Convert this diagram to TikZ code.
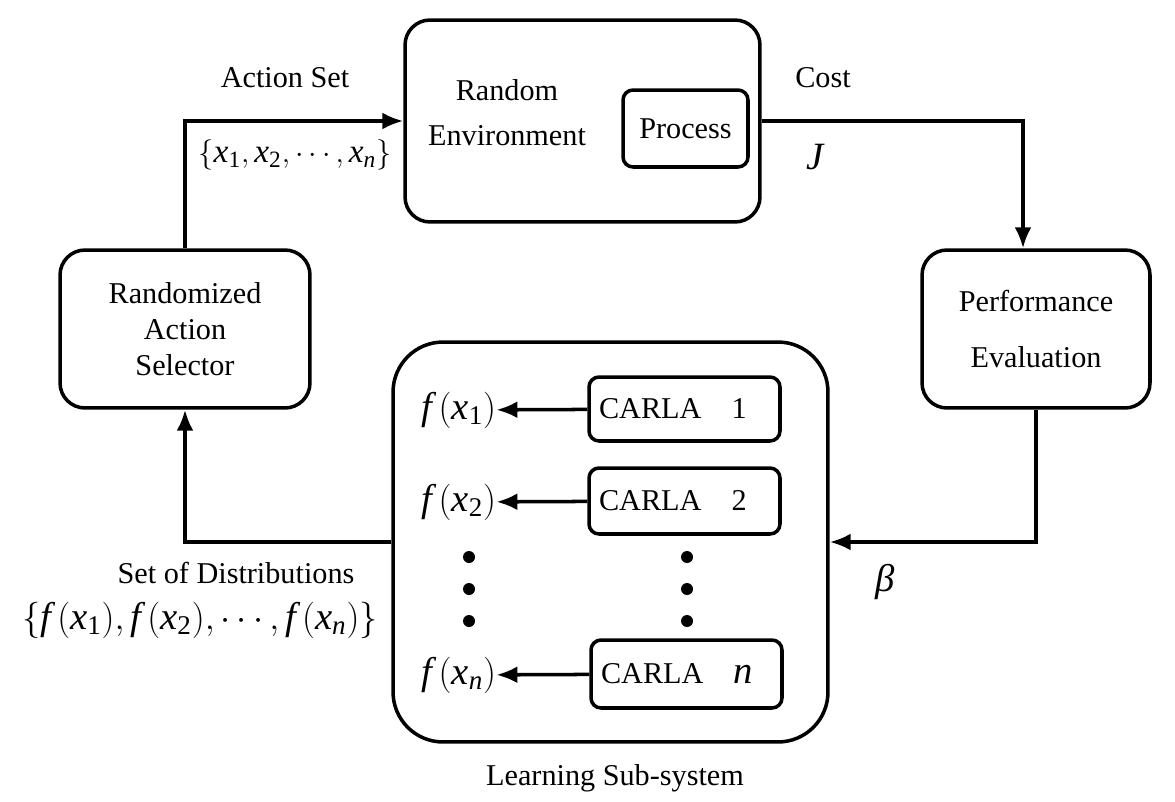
\documentclass[tikz,border=0pt]{standalone}
\usepackage{mathspec}
\setmainfont{Liberation Serif}
\setmathsfont(Digits,Latin)[Uppercase=Italic,Lowercase=Italic]{Liberation Serif}
\usetikzlibrary{arrows.meta}
\tikzset{
	blk/.style={draw, line width=2pt, rounded corners=0.5cm, inner sep=0pt, align=center},
	carla/.style={draw, line width=2pt, rounded corners=0.2cm, text width=3.42cm, inner xsep=0.2cm, inner ysep=0pt, align=left},
	flow/.style={line width=2pt, -{Latex[length=0.42cm,width=0.34cm]}},
	mth/.style={font=\fontsize{22}{26}\selectfont, inner sep=0pt},
	dot/.style={circle, fill, inner sep=0pt, minimum size=0.24cm}
}
\begin{document}
\begin{tikzpicture}[x=0.02cm, y=-0.02cm, font=\fontsize{17.2}{20.6}\selectfont]
				\useasboundingbox (0,0) rectangle (1175,801);
				
				\node[blk, minimum width=7.1cm, minimum height=4.04cm] (env) at (582.5,121) {};
				\node[align=center] (envtxt) at (507,113) {Random\\[5pt]Environment};
				\node[blk, rounded corners=0.2cm, minimum width=2.5cm, minimum height=1.54cm] (proc) at (685.5,128.5) {Process};
				
				\node[blk, minimum width=5cm, minimum height=3.16cm] (sel) at (185,329) {Randomized\\Action\\Selector};
				\node[blk, minimum width=4.56cm, minimum height=3.16cm] (perf) at (1036,329) {Performance\\[11pt]Evaluation};
				
				\node[blk, rounded corners=1cm, minimum width=8.7cm, minimum height=8cm] (learn) at (610.5,542) {};
				\node (learntxt) at (615,778) {Learning Sub-system};
				
				\node[carla, minimum height=1.28cm] (c1) at (684.5,409) {CARLA\quad 1};
				\node[carla, minimum height=1.32cm] (c2) at (684.5,501) {CARLA\quad 2};
				\node[carla, minimum height=1.36cm] (cn) at (686.5,674) {CARLA\quad {\fontsize{22}{26}\selectfont$n$}};
				
				\node[mth] (f1) at (459,410) {$f\,(x_1)$};
				\node[mth] (f2) at (459,502) {$f\,(x_2)$};
				\node[mth] (fn) at (459,675) {$f\,(x_n)$};
				
				\draw[flow] (c1) -- (f1);
				\draw[flow] (c2) -- (f2);
				\draw[flow] (cn) -- (fn);
				
				\foreach \yy in {557,589,621}{
					\node[dot] at (469,\yy) {};
					\node[dot] at (687,\yy) {};
				}
				
				\draw[flow] (sel.north) |- (env.west);
				\draw[flow] (env.east) -| ([xshift=-0.26cm]perf.north);
				\draw[flow] (perf.south) |- (learn.east);
				\draw[flow] (learn.west) -| (sel.south);
				
				\node (acttxt) at (285,78) {Action Set};
				\node[mth, font=\fontsize{19}{23}\selectfont] (actset) at (295,155) {$\{x_1,x_2,\cdots,x_n\}$};
				\node (costtxt) at (823,78) {Cost};
				\node[mth] (cost) at (815,157) {$J$};
				\node[mth] (beta) at (885,582) {\textit{β}};
				\node (disttxt) at (236,573) {Set of Distributions};
				\node[mth] (distset) at (200,620) {$\{f\,(x_1),f\,(x_2),\cdots,f\,(x_n)\}$};
			\end{tikzpicture}
\end{document}
